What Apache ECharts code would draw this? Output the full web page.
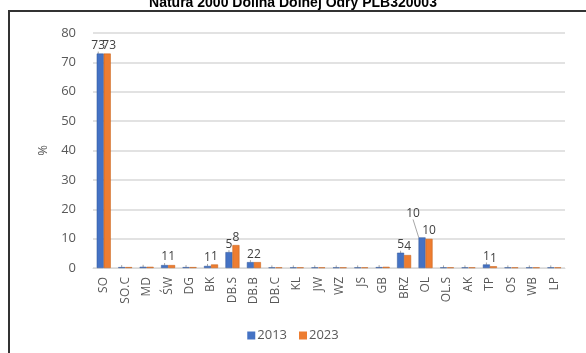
<!DOCTYPE html>
<html><head><meta charset="utf-8">
<script src="https://cdn.jsdelivr.net/npm/echarts@6/dist/echarts.min.js"></script>
<style>html,body{margin:0;padding:0;background:#fff}#c{width:586px;height:353px}</style>
</head><body><div id="c"></div>
<script>
const categories = ['SO','SO.C','MD','ŚW','DG','BK','DB.S','DB.B','DB.C','KL','JW','WZ','JS','GB','BRZ','OL','OL.S','AK','TP','OS','WB','LP'];
const values2013 = [73,0.3,0.4,1,0.3,0.7,5.4,2,0.2,0.2,0.2,0.2,0.2,0.3,5.2,10.4,0.2,0.2,1.2,0.2,0.2,0.2];
const values2023 = [73,0.3,0.4,1,0.3,1.2,7.8,2,0.2,0.2,0.2,0.2,0.2,0.4,4.4,9.9,0.2,0.2,0.6,0.2,0.2,0.2];
const seriesNames = ['2013','2023'];
const yTicks = [0,10,20,30,40,50,60,70,80];
const titleText = 'Natura 2000 Dolina Dolnej Odry PLB320003';

const chart = echarts.init(document.getElementById('c'));
const FF = 'Open Sans, Liberation Sans, sans-serif';
const fmt = p => { const r = Math.round(p.value); return r >= 1 ? String(r) : ''; };
const lab = { show:true, position:'top', distance:2, color:'#404040', fontSize:12, fontFamily:FF, formatter: fmt };
chart.setOption({
  animation:false,
  title:{ text:titleText, left:'center', top:-9, textStyle:{ fontFamily:'Liberation Sans, Arial', fontWeight:'bold', fontSize:14, color:'#000' } },
  graphic:[{ type:'rect', shape:{ x:9, y:11, width:620, height:400 }, style:{ fill:'none', stroke:'#333', lineWidth:2 }, z:-1 }],
  grid:{ left:93, right:21, top:33, bottom:85 },
  legend:{ bottom:6, left:'center', itemWidth:8, itemHeight:8, itemGap:12, icon:'rect',
    itemStyle:{ borderWidth:0 },
    textStyle:{ color:'#595959', fontSize:13, fontFamily:FF, padding:[0,0,0,-3] } },
  xAxis:{ type:'category', data:categories,
    axisLine:{ lineStyle:{ color:'#d9d9d9' } }, axisTick:{ show:false },
    axisLabel:{ rotate:90, interval:0, color:'#595959', fontSize:12, margin:9, fontFamily:FF } },
  yAxis:{ type:'value', min:yTicks[0], max:yTicks[yTicks.length-1], interval:10,
    name:'%', nameLocation:'middle', nameGap:40, nameRotate:90,
    nameTextStyle:{ color:'#595959', fontSize:13, fontFamily:FF },
    axisLine:{ show:false }, axisTick:{ show:false },
    axisLabel:{ color:'#595959', fontSize:13, margin:17, fontFamily:FF },
    splitLine:{ lineStyle:{ color:'#d9d9d9', width:1.5 } } },
  series:[
    { name:seriesNames[0], type:'bar', data:values2013, barWidth:7, barGap:'0%',
      itemStyle:{ color:'#4472C4', borderColor:'#2F5597', borderWidth:0.5 }, label:lab,
      labelLayout: p => p.dataIndex === 15 ? { dx:-9, dy:-16 } : (p.dataIndex === 0 ? { dx:-2 } : {}),
      labelLine:{ show:true, lineStyle:{ color:'#a6a6a6', width:1 } } },
    { name:seriesNames[1], type:'bar', data:values2023, barWidth:7,
      itemStyle:{ color:'#ED7D31', borderColor:'#C55A11', borderWidth:0.5 }, label:lab,
      labelLayout: p => (p.dataIndex === 0 ? { dx:2 } : {}) }
  ]
});
</script></body></html>
